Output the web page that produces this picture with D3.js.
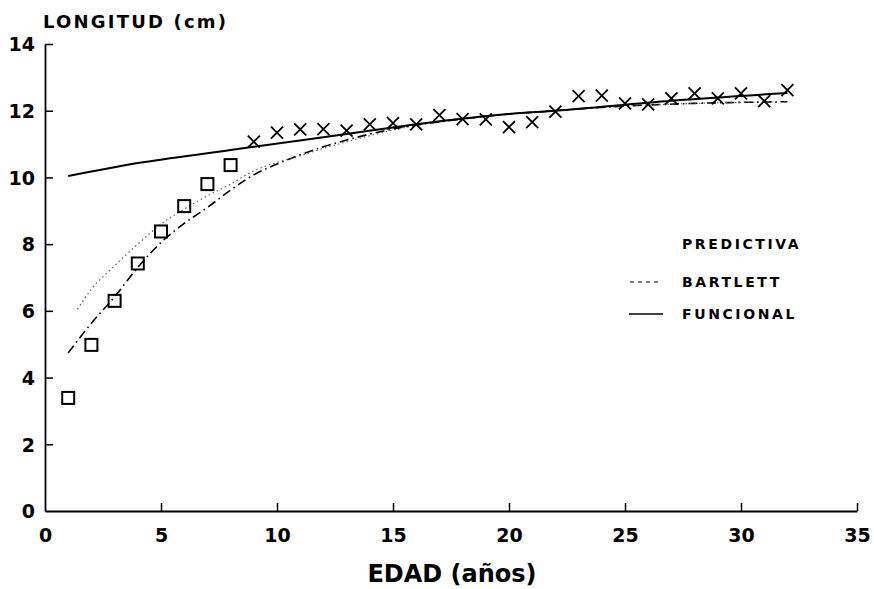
<!DOCTYPE html>
<html>
<head>
<meta charset="utf-8">
<script src="https://cdnjs.cloudflare.com/ajax/libs/d3/7.8.5/d3.min.js"></script>
<style>
  body { margin: 0; background: #fff; }
  svg { display: block; }
  text { font-family: "DejaVu Sans", "Liberation Sans", Arial, sans-serif; fill: #000; }
</style>
</head>
<body>
<svg width="874" height="589"></svg>
<script>
// observed lengths: squares (ages 1-8) and crosses (ages 9-32)
var ageSq = [1, 2, 3, 4, 5, 6, 7, 8];
var lenSq = [3.39, 4.98, 6.30, 7.42, 8.38, 9.14, 9.80, 10.37];
var ageX = [9, 10, 11, 12, 13, 14, 15, 16, 17, 18, 19, 20, 21, 22, 23, 24, 25, 26, 27, 28, 29, 30, 31, 32];
var lenX = [11.07, 11.34, 11.44, 11.45, 11.40, 11.59, 11.63, 11.59, 11.87, 11.75, 11.74, 11.51,
            11.66, 11.97, 12.44, 12.45, 12.22, 12.19, 12.37, 12.52, 12.37, 12.52, 12.29, 12.62];

// fitted curves
var agePred = [1, 2, 3, 4, 5, 6, 7, 8, 9, 10, 11, 12, 13, 14, 15, 16, 18, 20, 22, 24, 26, 28, 30, 32];
var lenPred = [4.74, 5.63, 6.42, 7.30, 8.05, 8.62, 9.10, 9.62, 10.08, 10.40, 10.68, 10.92, 11.12, 11.30,
               11.45, 11.57, 11.75, 11.90, 12.00, 12.10, 12.17, 12.22, 12.25, 12.27];
var ageBart = [1.4, 2, 3, 4, 5, 6, 7, 8, 9, 10, 11, 12, 13, 14, 15, 16, 18, 20, 22, 24, 26, 28, 30, 32];
var lenBart = [6.05, 6.65, 7.35, 8.0, 8.6, 9.05, 9.45, 9.8, 10.2, 10.45, 10.65, 10.87, 11.07, 11.25,
               11.42, 11.56, 11.76, 11.9, 12.0, 12.1, 12.17, 12.22, 12.25, 12.27];
var ageFunc = [1, 4, 8, 9, 13, 15, 20, 22, 27, 32];
var lenFunc = [10.04, 10.43, 10.82, 10.92, 11.30, 11.50, 11.90, 12.00, 12.30, 12.53];

var xTicks = [0, 5, 10, 15, 20, 25, 30, 35];
var yTicks = [0, 2, 4, 6, 8, 10, 12, 14];
var legendNames = ['PREDICTIVA', 'BARTLETT', 'FUNCIONAL'];

var svg = d3.select('svg');
var margin = {top: 44, right: 17, bottom: 78, left: 45};
var width = 874 - margin.left - margin.right;
var height = 589 - margin.top - margin.bottom;

var g = svg.append('g')
    .attr('transform', 'translate(' + margin.left + ',' + margin.top + ')');

var x = d3.scaleLinear().domain([0, 35]).range([0, width]);
var y = d3.scaleLinear().domain([0, 14]).range([height, 0]);

// axes
var xAxis = g.append('g')
    .attr('transform', 'translate(0,' + height + ')')
    .call(d3.axisBottom(x).tickValues(xTicks).tickSize(-8).tickPadding(18).tickSizeOuter(0));
var yAxis = g.append('g')
    .call(d3.axisLeft(y).tickValues(yTicks).tickSize(-8).tickPadding(10).tickSizeOuter(0));

[xAxis, yAxis].forEach(function (a) {
    a.select('.domain').attr('stroke', '#000').attr('stroke-width', 1.8);
    a.selectAll('.tick line').attr('stroke', '#000').attr('stroke-width', 1.5);
    a.selectAll('.tick text')
        .style('font-family', '"DejaVu Sans", Arial, sans-serif')
        .style('font-size', '19px')
        .style('font-weight', 'bold');
});
xAxis.selectAll('.tick').filter(function (d) { return d === 0; }).select('line').remove();
yAxis.selectAll('.tick').filter(function (d) { return d === 0; }).select('line').remove();
yAxis.selectAll('.tick text').attr('dy', '0.36em');

// curves
var line = d3.line()
    .x(function (d) { return x(d[0]); })
    .y(function (d) { return y(d[1]); })
    .curve(d3.curveMonotoneX);

g.append('path')
    .datum(d3.zip(agePred, lenPred))
    .attr('fill', 'none')
    .attr('stroke', '#000')
    .attr('stroke-width', 1.6)
    .attr('stroke-dasharray', '9,4,1.5,4')
    .attr('d', line);

g.append('path')
    .datum(d3.zip(ageBart, lenBart))
    .attr('fill', 'none')
    .attr('stroke', '#555')
    .attr('stroke-width', 1.1)
    .attr('stroke-dasharray', '1.5,3')
    .attr('d', line);

g.append('path')
    .datum(d3.zip(ageFunc, lenFunc))
    .attr('fill', 'none')
    .attr('stroke', '#000')
    .attr('stroke-width', 2)
    .attr('d', line);

// squares
var sq = 12;
g.selectAll('rect.obs')
    .data(d3.zip(ageSq, lenSq))
    .enter()
    .append('rect')
    .attr('class', 'obs')
    .attr('x', function (d) { return x(d[0]) - sq / 2; })
    .attr('y', function (d) { return y(d[1]) - sq / 2; })
    .attr('width', sq)
    .attr('height', sq)
    .attr('fill', 'none')
    .attr('stroke', '#000')
    .attr('stroke-width', 2);

// crosses
var cs = 6;
var crosses = g.selectAll('g.cross')
    .data(d3.zip(ageX, lenX))
    .enter()
    .append('g')
    .attr('class', 'cross')
    .attr('transform', function (d) { return 'translate(' + x(d[0]) + ',' + y(d[1]) + ')'; });
crosses.append('path')
    .attr('d', 'M' + (-cs) + ',' + (-cs) + 'L' + cs + ',' + cs + 'M' + (-cs) + ',' + cs + 'L' + cs + ',' + (-cs))
    .attr('stroke', '#000')
    .attr('stroke-width', 1.8);

// axis titles
svg.append('text')
    .attr('x', 43)
    .attr('y', 28)
    .style('font-size', '18px')
    .style('font-weight', 'bold')
    .style('letter-spacing', '2.2px')
    .text('LONGITUD (cm)');

svg.append('text')
    .attr('x', 452)
    .attr('y', 582)
    .attr('text-anchor', 'middle')
    .style('font-size', '24px')
    .style('font-weight', 'bold')
    .text('EDAD (años)');

// legend
var legY = [244, 282, 314];
var leg = svg.append('g');
leg.selectAll('text')
    .data(legendNames)
    .enter()
    .append('text')
    .attr('x', 682)
    .attr('y', function (d, i) { return legY[i] + 5; })
    .style('font-size', '14px')
    .style('font-weight', 'bold')
    .style('letter-spacing', '2.6px')
    .text(function (d) { return d; });

leg.append('line')
    .attr('x1', 630).attr('x2', 662)
    .attr('y1', legY[1]).attr('y2', legY[1])
    .attr('stroke', '#000').attr('stroke-width', 1.2)
    .attr('stroke-dasharray', '4,4');
leg.append('line')
    .attr('x1', 629).attr('x2', 663)
    .attr('y1', legY[2]).attr('y2', legY[2])
    .attr('stroke', '#000').attr('stroke-width', 1.6);
</script>
</body>
</html>
